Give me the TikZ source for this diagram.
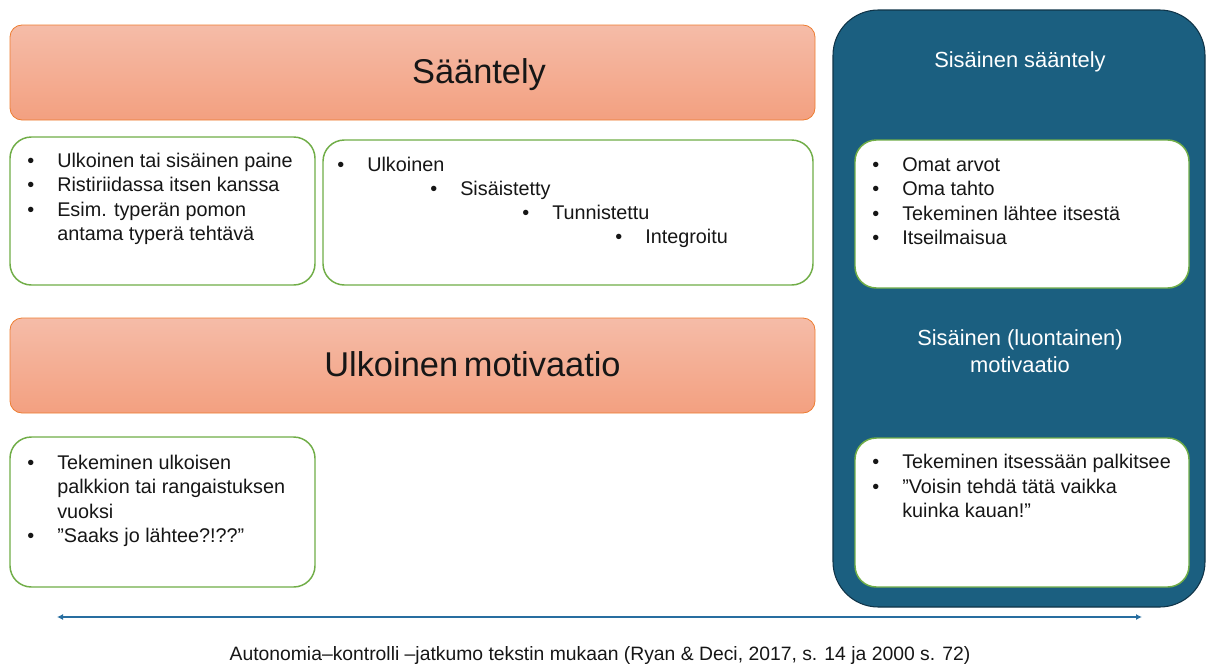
\documentclass[tikz,border=0pt]{standalone}
\usepackage{fontspec}
\setmainfont{Liberation Sans}
\usepackage{xcolor}
\definecolor{SalmonTop}{RGB}{245,188,168}
\definecolor{SalmonBot}{RGB}{243,160,128}
\definecolor{SalmonLine}{RGB}{237,125,49}
\definecolor{LeafGreen}{RGB}{112,173,71}
\definecolor{DeepTeal}{RGB}{27,95,128}
\definecolor{DeepLine}{RGB}{16,52,72}
\definecolor{AxisBlue}{RGB}{40,110,160}
\definecolor{InkGray}{RGB}{22,22,22}
\usepackage{tikz}
\usetikzlibrary{arrows.meta,positioning}

\newcommand{\blt}{\makebox[22.5pt][l]{\textbullet}}

\begin{document}
\begin{tikzpicture}[
  x=0.75pt, y=-0.75pt,
  headbox/.style={rectangle, rounded corners=9pt, draw=SalmonLine, line width=0.6pt,
              top color=SalmonTop, bottom color=SalmonBot,
              minimum width=603.75pt, minimum height=71.25pt},
  headtext/.style={anchor=base, inner sep=0pt, text=InkGray,
              font=\fontsize{25.8pt}{30pt}\selectfont},
  listbox/.style={rectangle, rounded corners=16pt, draw=LeafGreen, line width=1.1pt,
              fill=white, minimum height=111pt},
  panel/.style={rectangle, rounded corners=34pt, draw=DeepLine, line width=0.8pt,
              fill=DeepTeal, minimum width=279pt, minimum height=447.75pt},
  items/.style={anchor=base west, inner sep=0pt, text=InkGray,
              font=\fontsize{14.85pt}{18.4pt}\selectfont},
  whitelabel/.style={text=white, align=center, inner sep=0pt,
              font=\fontsize{16.4pt}{19.8pt}\selectfont},
  axis/.style={{Latex[length=4.5pt,width=4.5pt]}-{Latex[length=4.5pt,width=4.5pt]},
              line width=1.2pt, color=AxisBlue},
  caption/.style={inner sep=0pt, text=InkGray, font=\fontsize{14.5pt}{17pt}\selectfont}
]
  \useasboundingbox (0,0) rectangle (1207,664);

  % right panel
  \node[panel] (inner) at (1019,308.5) {};
  \node[whitelabel] (innerreg) at (1020,62) {Sisäinen sääntely};
  \node[whitelabel] (innermot) at (1020,351) {Sisäinen (luontainen)\\motivaatio};

  % headings
  \node[headbox] (reg) at (412.5,72.5) {};
  \node[headtext] (regtext) at (479,83.3) {Sääntely};
  \node[headbox] (extmot) at (412.5,365.5) {};
  \node[headtext] (extmottext) at (472.5,376.7) {Ulkoinen\,motivaatio};

  % list boxes
  \node[listbox, minimum width=228.75pt] (b1) at (162.5,211) {};
  \node[listbox, minimum width=367.5pt, minimum height=108.75pt] (b2) at (568,212.5) {};
  \node[listbox, minimum width=228.75pt, minimum height=112.5pt] (b3) at (162.5,512) {};
  \node[listbox, minimum width=250.5pt] (b4) at (1022,214) {};
  \node[listbox, minimum width=250.5pt, minimum height=111.75pt] (b5) at (1022,512.5) {};

  \node[items] (t1) at (27,167) {\begin{tabular}[t]{@{}l@{}l@{}}
    \blt & Ulkoinen tai sisäinen paine\\
    \blt & Ristiriidassa itsen kanssa\\
    \blt & Esim. typerän pomon\\
         & antama typerä tehtävä
  \end{tabular}};

  \node[items] (t2a) at (337,171) {\blt Ulkoinen};
  \node[items] (t2b) at (430,195) {\blt Sisäistetty};
  \node[items] (t2c) at (522,219) {\blt Tunnistettu};
  \node[items] (t2d) at (615,243) {\blt Integroitu};

  \node[items] (t3) at (27,469) {\begin{tabular}[t]{@{}l@{}l@{}}
    \blt & Tekeminen ulkoisen\\
         & palkkion tai rangaistuksen\\
         & vuoksi\\
    \blt & ”Saaks jo lähtee?!??”
  \end{tabular}};

  \node[items] (t4) at (872,171) {\begin{tabular}[t]{@{}l@{}l@{}}
    \blt & Omat arvot\\
    \blt & Oma tahto\\
    \blt & Tekeminen lähtee itsestä\\
    \blt & Itseilmaisua
  \end{tabular}};

  \node[items] (t5) at (872,468.5) {\begin{tabular}[t]{@{}l@{}l@{}}
    \blt & Tekeminen itsessään palkitsee\\
    \blt & ”Voisin tehdä tätä vaikka\\
         & kuinka kauan!”
  \end{tabular}};

  % continuum
  \coordinate (ctrl) at (57,617);
  \coordinate (auto) at (1142,617);
  \draw[axis] (ctrl) -- (auto);
  \node[caption] (cap) at (600,655) {Autonomia–kontrolli –jatkumo tekstin mukaan (Ryan \& Deci, 2017, s. 14 ja 2000 s. 72)};
\end{tikzpicture}
\end{document}
